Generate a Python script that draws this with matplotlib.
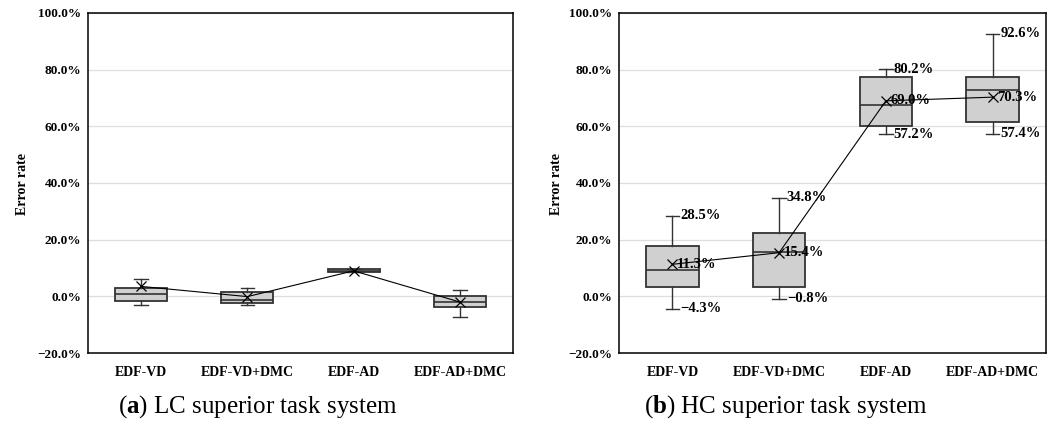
import matplotlib
matplotlib.use('Agg')
import matplotlib.pyplot as plt

plt.rcParams['font.family'] = ['Liberation Serif', 'DejaVu Serif']
plt.rcParams['mathtext.fontset'] = 'custom'
plt.rcParams['mathtext.rm'] = 'Liberation Serif'
plt.rcParams['mathtext.bf'] = 'Liberation Serif:bold'

categories = ['EDF-VD', 'EDF-VD+DMC', 'EDF-AD', 'EDF-AD+DMC']
y_ticks = [-20, 0, 20, 40, 60, 80, 100]
y_tick_labels = ['\u221220.0%', '0.0%', '20.0%', '40.0%', '60.0%', '80.0%', '100.0%']

# (a) LC superior task system
lc_whislo = [-3.2, -3.2, 8.6, -7.4]
lc_q1 = [-1.8, -2.2, 8.6, -3.9]
lc_med = [0.8, -1.4, 9.0, -2.0]
lc_q3 = [3.1, 1.7, 9.5, 0.0]
lc_whishi = [6.1, 3.0, 9.5, 2.2]
lc_mean = [3.5, -0.1, 9.0, -2.0]

# (b) HC superior task system
hc_whislo = [-4.3, -0.8, 57.2, 57.4]
hc_q1 = [3.4, 3.3, 60.1, 61.4]
hc_med = [9.4, 15.8, 67.7, 72.9]
hc_q3 = [17.8, 22.5, 77.3, 77.3]
hc_whishi = [28.5, 34.8, 80.2, 92.6]
hc_mean = [11.3, 15.4, 69.0, 70.3]

BOX_W = 0.49
CAP_W = 0.125


def pct(v):
    return f'{v:.1f}%'.replace('-', '\u2212')


def draw(ax, whislo, q1, med, q3, whishi, mean, labels=False):
    stats = []
    for i in range(len(categories)):
        stats.append(dict(whislo=whislo[i], q1=q1[i], med=med[i], q3=q3[i],
                          whishi=whishi[i], fliers=[]))
    pos = list(range(len(categories)))
    edge = '#333333'
    ax.bxp(stats, positions=pos, widths=BOX_W, capwidths=CAP_W,
           patch_artist=True, showfliers=False,
           boxprops=dict(facecolor='#d1d0d1', edgecolor=edge, linewidth=1.3),
           medianprops=dict(color=edge, linewidth=1.2),
           whiskerprops=dict(color=edge, linewidth=1.0),
           capprops=dict(color=edge, linewidth=1.0), zorder=2)
    ax.plot(pos, mean, color='black', lw=0.8, marker='x', ms=6.5,
            mew=0.9, zorder=3)

    if labels:
        for i in pos:
            ax.text(i + CAP_W / 2 + 0.01, whishi[i], pct(whishi[i]),
                    ha='left', va='center', fontsize=10.5, fontweight='bold', zorder=4)
            ax.text(i + CAP_W / 2 + 0.01, whislo[i], pct(whislo[i]),
                    ha='left', va='center', fontsize=10.5, fontweight='bold', zorder=4)
            ax.annotate(pct(mean[i]), (i, mean[i]), xytext=(3, 0),
                        textcoords='offset points', ha='left', va='center',
                        fontsize=10.5, fontweight='bold', zorder=4)

    ax.set_xlim(-0.5, len(categories) - 0.5)
    ax.set_ylim(-20, 100)
    ax.set_yticks(y_ticks)
    ax.set_yticklabels(y_tick_labels, fontsize=9.5, fontweight='bold')
    ax.set_xticks(pos)
    ax.set_xticklabels(categories, fontsize=10, fontweight='bold')
    ax.tick_params(axis='y', length=0, pad=5)
    ax.tick_params(axis='x', length=0, pad=9)
    ax.yaxis.grid(True, color='#dedede', lw=0.9)
    ax.set_axisbelow(True)
    for s in ax.spines.values():
        s.set_color('black')
        s.set_linewidth(1.1)


fig = plt.figure(figsize=(10.54, 4.26), dpi=100)
ax1 = fig.add_axes([88 / 1054, 1 - 353 / 426, 425 / 1054, 340 / 426])
ax2 = fig.add_axes([619 / 1054, 1 - 353 / 426, 427 / 1054, 340 / 426])

draw(ax1, lc_whislo, lc_q1, lc_med, lc_q3, lc_whishi, lc_mean)
draw(ax2, hc_whislo, hc_q1, hc_med, hc_q3, hc_whishi, hc_mean, labels=True)

fig.text(22 / 1054, 1 - 184 / 426, 'Error rate', rotation=90, ha='center',
         va='center', fontsize=10, fontweight='bold')
fig.text(557 / 1054, 1 - 184 / 426, 'Error rate', rotation=90, ha='center',
         va='center', fontsize=10, fontweight='bold')

fig.text(258 / 1054, 1 - 413 / 426, r'($\mathbf{a}$) LC superior task system',
         ha='center', va='baseline', fontsize=18)
fig.text(786 / 1054, 1 - 413 / 426, r'($\mathbf{b}$) HC superior task system',
         ha='center', va='baseline', fontsize=18)

fig.savefig('out.png', dpi=100)
